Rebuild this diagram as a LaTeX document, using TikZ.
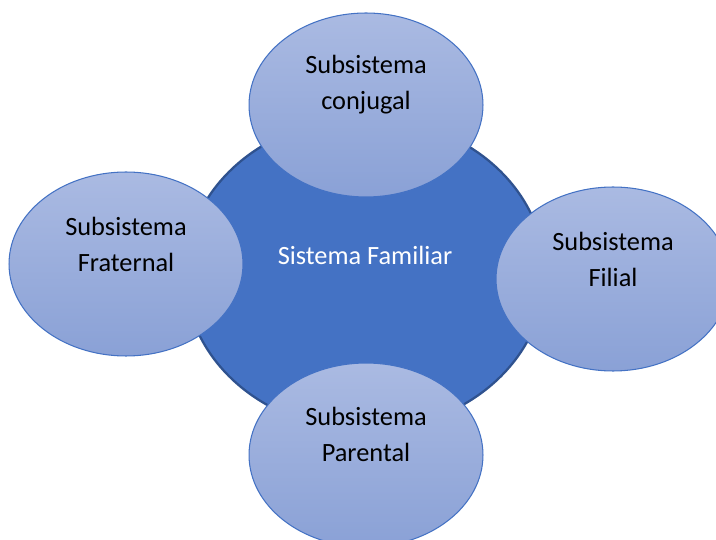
\documentclass[tikz,border=0pt]{standalone}
\usepackage{fontspec}
\setmainfont{Carlito}
\usetikzlibrary{shapes.geometric}

\definecolor{accent}{HTML}{4472C4}
\definecolor{accentdark}{HTML}{2F528F}
\definecolor{subtop}{HTML}{AABAE2}
\definecolor{subbottom}{HTML}{8AA1D6}

\tikzset{
  core/.style = {draw=accentdark, line width=1.3pt, fill=accent, ellipse,
                 minimum width=7.2cm, minimum height=6.24cm, inner sep=0pt},
  sub/.style  = {draw=accent, line width=0.6pt, ellipse, top color=subtop,
                 bottom color=subbottom, minimum width=4.68cm,
                 minimum height=3.68cm, inner sep=0pt},
  lbl/.style  = {align=center, font=\fontsize{15pt}{20.5pt}\selectfont}
}

\begin{document}
\begin{tikzpicture}[x=0.02cm, y=-0.02cm]
\useasboundingbox (0,0) rectangle (716,540);
\clip (0,0) rectangle (716,540);
\node[core] (familia) at (365,274) {};
\node[sub] (conjugal) at (366,105) {};
\node[sub] (fraternal) at (126,264) {};
\node[sub] (filial) at (613,279) {};
\node[sub] (parental) at (366,455) {};
\node[lbl, text=white] (familiaText) at ([yshift=0.38cm]familia.center) {Sistema Familiar};
\node[lbl] (conjugalText) at ([yshift=0.4cm]conjugal.center) {Subsistema\\conjugal};
\node[lbl] (fraternalText) at ([yshift=0.4cm]fraternal.center) {Subsistema\\Fraternal};
\node[lbl] (filialText) at ([yshift=0.4cm]filial.center) {Subsistema\\Filial};
\node[lbl] (parentalText) at ([yshift=0.42cm]parental.center) {Subsistema\\Parental};
\end{tikzpicture}
\end{document}
